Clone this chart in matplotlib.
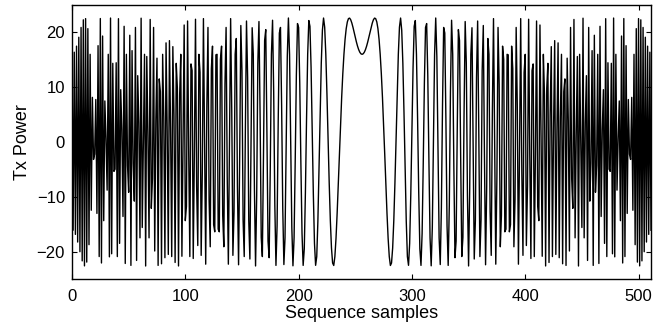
import numpy as np
import matplotlib
matplotlib.use("Agg")
import matplotlib.pyplot as plt

plt.rcParams['font.family'] = ['Liberation Sans', 'DejaVu Sans']

# NOTE: the 512 samples cannot be read one by one from the picture (the edges
# are dense / aliased), so unlike the other values they are generated from a
# quadratic-phase chirp model whose parameters were measured from the picture:
# slowest point at sample 256, value 16 there, peak ~22.6 = 16*sqrt(2),
# first minima near samples 232 and 282.
seq_len = 512          # number of samples (x axis 0..511)
centre = 256           # sample where the chirp is slowest (dip at ~16)
amp = 16               # value at the centre; peak = amp*sqrt(2) ~ 22.6
samples = np.arange(seq_len)
phase = np.pi * (samples - centre) ** 2 / seq_len
tx_power = amp * (np.cos(phase) + np.sin(phase))

x_ticks = [0, 100, 200, 300, 400, 500]
y_ticks = [-20, -10, 0, 10, 20]
y_tick_labels = ['\u221220', '\u221210', '0', '10', '20']

fig = plt.figure(figsize=(6.53, 3.29), dpi=100)
ax = fig.add_axes([72/653, 1-279/329, (651-72)/653, (279-5)/329])
ax.plot(samples, tx_power, color='black', lw=1.0)
ax.set_xlim(0, seq_len - 1)
ax.set_ylim(-25, 25)
ax.set_xticks(x_ticks)
ax.set_yticks(y_ticks)
ax.set_yticklabels(y_tick_labels)
ax.tick_params(direction='in', length=3.5, width=0.8, labelsize=12, top=True, right=True,
               labeltop=False, labelright=False)
ax.tick_params(axis='x', pad=7)
ax.tick_params(axis='y', pad=5)
for s in ax.spines.values():
    s.set_linewidth(1.0)
ax.set_xlabel('Sequence samples', fontsize=13, labelpad=1)
ax.set_ylabel('Tx Power', fontsize=13, labelpad=4)
fig.savefig('out.png', dpi=100)
